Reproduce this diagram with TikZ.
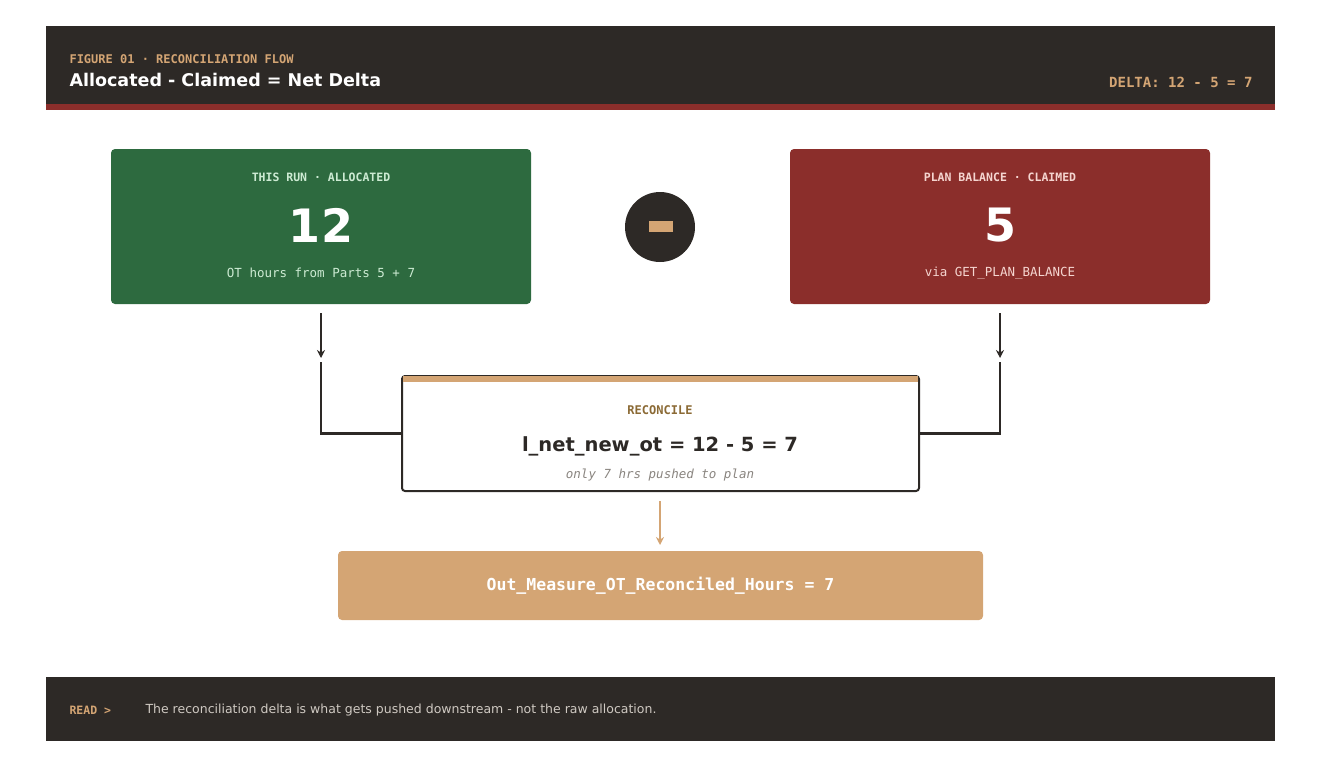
\documentclass[tikz,border=0pt]{standalone}
\usepackage{fontspec}
\setmainfont{DejaVu Sans}
\setmonofont{DejaVu Sans Mono}
\usetikzlibrary{arrows.meta}
\definecolor{dark}{HTML}{2D2926}
\definecolor{tan}{HTML}{D4A574}
\definecolor{grn}{HTML}{2D6A3F}
\definecolor{red}{HTML}{8B2E2B}
\definecolor{lgrn}{HTML}{CDEBD3}
\definecolor{lred}{HTML}{F5D5D0}
\definecolor{gold}{HTML}{8B6A35}
\definecolor{gry}{HTML}{8A8580}
\definecolor{foot}{HTML}{CFC9C2}
\begin{document}
\begin{tikzpicture}[x=1pt,y=-1pt,
  card/.style={rounded corners=4pt,inner sep=0pt},
  lbl/.style={font=\ttfamily\bfseries\fontsize{11.5}{13}\selectfont},
  conn/.style={draw=dark,line width=2.6pt},
  arr/.style={-{Stealth[length=8pt,width=8pt]},line width=2.6pt}]
\useasboundingbox (0,0) rectangle (1321,782);
\fill[dark] (46,26) rectangle (1275,104);
\fill[red] (46,104) rectangle (1275,110);
\node[anchor=west,text=tan,lbl,font=\ttfamily\bfseries\fontsize{12}{14}\selectfont] (fig) at (66,59) {FIGURE 01 · RECONCILIATION FLOW};
\node[anchor=west,text=white,font=\bfseries\fontsize{17.5}{20}\selectfont] (title) at (66,80) {Allocated - Claimed = Net Delta};
\node[anchor=east,text=tan,font=\ttfamily\bfseries\fontsize{14}{16}\selectfont] (delta) at (1256,82) {DELTA: 12 - 5 = 7};
% green
\fill[grn,card] (111,149) rectangle (531,304);
\node[text=lgrn,lbl] (gl) at (321,177) {THIS RUN · ALLOCATED};
\node[text=white,font=\bfseries\fontsize{46}{50}\selectfont] (g12) at (321,225) {12};
\node[text=lgrn,font=\ttfamily\fontsize{12.5}{14}\selectfont] (gs) at (321,273) {OT hours from Parts 5 + 7};
\coordinate (gb) at (321,304);
% red
\fill[red,card] (790,149) rectangle (1210,304);
\node[text=lred,lbl] (rl) at (1000,177) {PLAN BALANCE · CLAIMED};
\node[text=white,font=\bfseries\fontsize{46}{50}\selectfont] (r5) at (1000,225) {5};
\node[text=lred,font=\ttfamily\fontsize{12.5}{14}\selectfont] (rs) at (1000,273) {via GET\_PLAN\_BALANCE};
% minus
\node[circle,fill=dark,minimum size=70pt,inner sep=0pt] (minus) at (660,227) {};
\fill[tan] (649,221) rectangle (673,232);
% arrows
\coordinate (ga) at (321,313); \coordinate (gz) at (321,358);
\coordinate (ra) at (1000,313); \coordinate (rz) at (1000,358);
\draw[arr,dark] (ga) -- (gz);
\draw[arr,dark] (ra) -- (rz);
% reconcile
\node[draw=dark,line width=2pt,rounded corners=3pt,minimum width=517pt,minimum height=115pt,fill=white] (rec) at (660.5,433.5) {};
\fill[tan] (403,376) rectangle (918,382);
\draw[conn] (321,362) |- (rec.west);
\draw[conn] (1000,362) |- (rec.east);
\node[text=gold,lbl,font=\ttfamily\bfseries\fontsize{12}{14}\selectfont] (recl) at (660,410) {RECONCILE};
\node[text=dark,font=\bfseries\fontsize{19.5}{22}\selectfont] (eq) at (660,446) {l\_net\_new\_ot = 12 - 5 = 7};
\node[text=gry,font=\ttfamily\itshape\fontsize{12.5}{14}\selectfont] (only) at (660,475) {only 7 hrs pushed to plan};
% out
\coordinate (ta) at (660,501); \coordinate (tz) at (660,545);
\draw[arr,tan] (ta) -- (tz);
\fill[tan,card] (338,551) rectangle (983,620);
\node[text=white,font=\ttfamily\bfseries\fontsize{16.5}{18}\selectfont] (out) at (660.5,586) {Out\_Measure\_OT\_Reconciled\_Hours = 7};
% footer
\fill[dark] (46,677) rectangle (1275,741);
\node[anchor=west,text=tan,lbl] (read) at (66,710) {READ >};
\node[anchor=west,text=foot,font=\fontsize{12.5}{14}\selectfont] (ft) at (142,710) {The reconciliation delta is what gets pushed downstream - not the raw allocation.};
\end{tikzpicture}
\end{document}
